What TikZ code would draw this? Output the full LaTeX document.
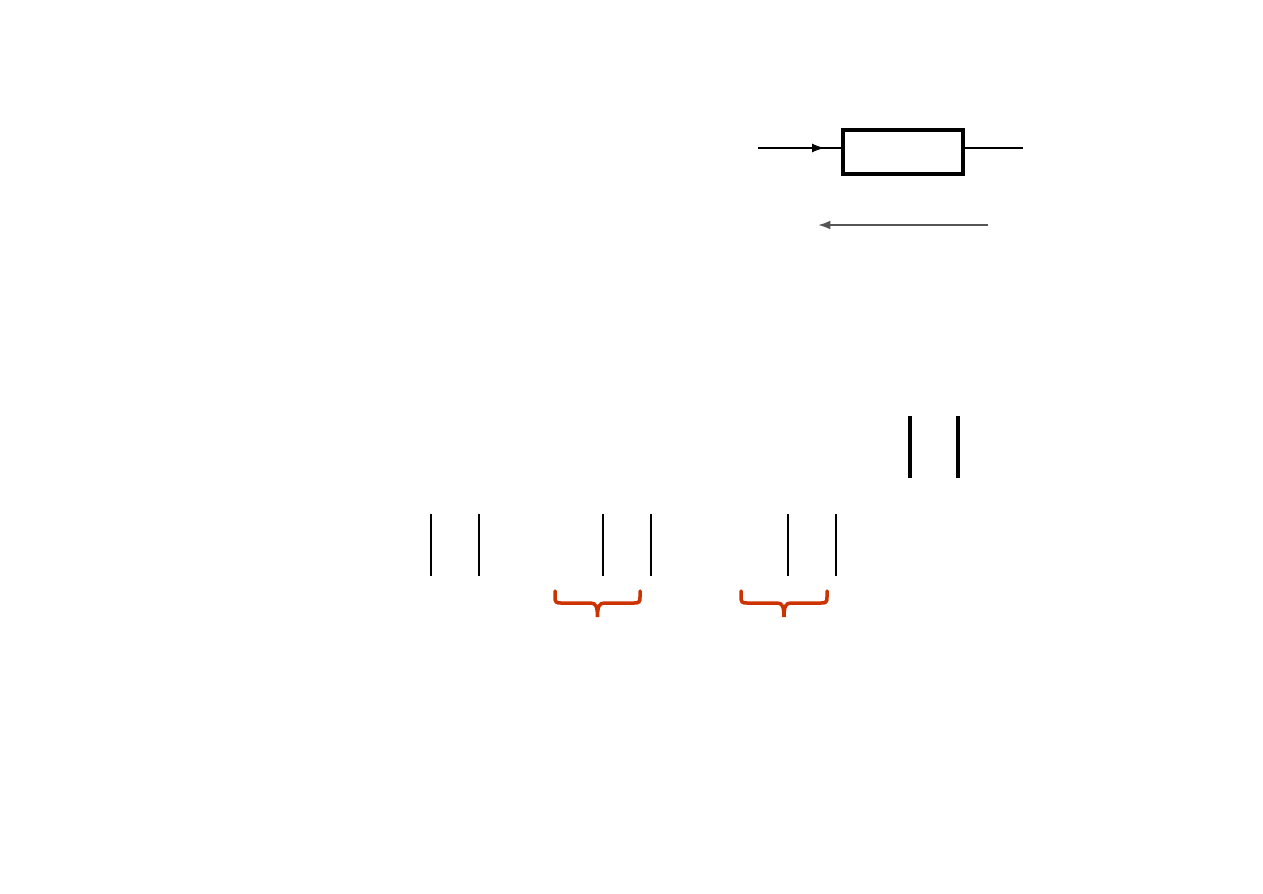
\documentclass[tikz,border=0pt]{standalone}
\usetikzlibrary{arrows.meta,decorations.markings}

\definecolor{bracered}{RGB}{204,51,0}
\definecolor{arrowgrey}{RGB}{85,85,85}

\tikzset{
    resbox/.style={draw, line width=2.2pt, minimum width=2.4cm, minimum height=0.88cm, inner sep=0pt},
    wire/.style={line width=0.7pt},
    plate/.style={line width=1.3pt},
    bigplate/.style={line width=1.8pt},
    redbrace/.style={bracered, line width=2pt, line cap=round},
}

\begin{document}
\begin{tikzpicture}[x=0.02cm, y=-0.02cm]
    \useasboundingbox (0,0) rectangle (1263,893);

    % resistor with current arrow
    \node[resbox] (res) at (903,152) {};
    \coordinate (in) at (758,148);
    \coordinate (out) at (1023,148);
    \draw[wire, postaction={decorate},
        decoration={markings, mark=at position 0.8 with {\arrow{Latex[length=7pt,width=5pt]}}}]
        (in) -- (res.west |- in);
    \draw[wire] (res.east |- out) -- (out);

    \coordinate (vtail) at (988,225);
    \coordinate (vhead) at (818,225);
    \draw[arrowgrey, line width=1.1pt, -{Latex[length=7pt,width=5pt]}] (vtail) -- (vhead);

    % upper pair of plates
    \foreach \x in {910,958}
        \draw[bigplate] (\x,416) -- (\x,478);

    % lower plates
    \foreach \x in {431,479,603,651,788,836}
        \draw[plate] (\x,514) -- (\x,576);

    % braces
    \foreach \l/\r [evaluate=\l as \m using (\l+\r)/2] in {555/640,741/827}
        \draw[redbrace] (\l,591) -- (\l,597)
            .. controls (\l,602) and (\l+1,603) .. (\l+6,603) -- (\m-7,603)
            .. controls (\m-2,603) and (\m,606) .. (\m,617)
            .. controls (\m,606) and (\m+2,603) .. (\m+7,603) -- (\r-6,603)
            .. controls (\r-1,603) and (\r,602) .. (\r,597) -- (\r,591);
\end{tikzpicture}
\end{document}
